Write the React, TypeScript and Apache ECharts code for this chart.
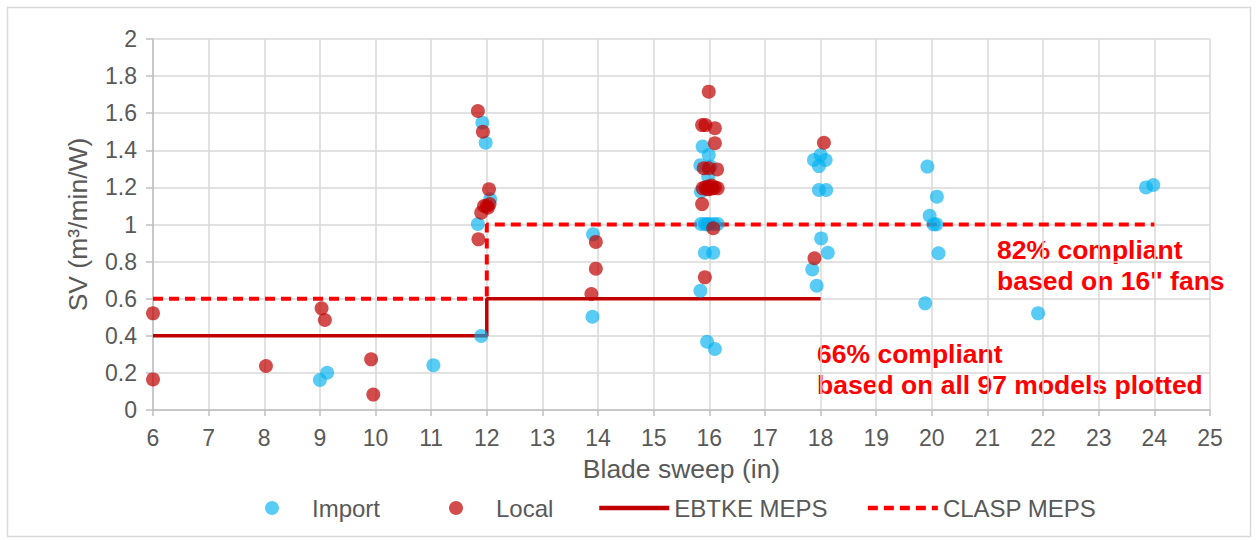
import React, { useEffect, useRef } from "react";
import * as echarts from "echarts";

const xTicks = { min: 6, max: 25, interval: 1 };
const yTicks = { min: 0, max: 2, interval: 0.2 };

const importPoints: [number, number][] = [
  [9.0, 0.162], [9.13, 0.201], [11.04, 0.241],
  [11.92, 1.549], [11.98, 1.441], [12.06, 1.136], [11.84, 1.003], [11.9, 0.399],
  [13.91, 0.947], [13.9, 0.503],
  [15.88, 1.42], [15.99, 1.375], [15.84, 1.32], [16.02, 1.312], [15.98, 1.258], [15.85, 1.177], [16.0, 1.2],
  [15.85, 1.003], [15.92, 1.003], [16.0, 1.003], [16.08, 1.003], [16.15, 1.003], [15.96, 1.0],
  [15.92, 0.848], [16.07, 0.848], [15.84, 0.643], [15.96, 0.368], [16.1, 0.329],
  [17.88, 1.348], [18.0, 1.375], [18.09, 1.348], [17.97, 1.315], [17.97, 1.186], [18.1, 1.186],
  [18.01, 0.925], [18.13, 0.848], [17.85, 0.758], [17.93, 0.67],
  [19.92, 1.312], [20.09, 1.15], [19.96, 1.047], [20.03, 1.001], [20.08, 1.001], [20.12, 0.845], [19.88, 0.575],
  [21.91, 0.521],
  [23.85, 1.2], [23.98, 1.213],
];

const localPoints: [number, number][] = [
  [6.0, 0.521], [6.0, 0.165], [8.03, 0.237],
  [9.03, 0.548], [9.09, 0.485], [9.92, 0.273], [9.96, 0.083],
  [11.84, 1.612], [11.93, 1.5], [12.04, 1.19], [11.95, 1.1], [12.0, 1.1], [12.05, 1.11], [12.02, 1.09],
  [11.9, 1.064], [11.85, 0.92],
  [13.96, 0.906], [13.96, 0.762], [13.88, 0.625],
  [15.99, 1.716], [15.87, 1.536], [15.93, 1.536], [16.1, 1.519], [16.1, 1.438],
  [15.9, 1.303], [15.99, 1.303], [16.14, 1.297],
  [15.88, 1.195], [15.93, 1.2], [15.98, 1.205], [16.02, 1.2], [16.06, 1.195], [16.1, 1.2], [16.15, 1.195],
  [16.0, 1.19], [16.04, 1.21], [15.96, 1.19],
  [15.87, 1.11], [16.07, 0.98], [15.92, 0.715],
  [18.06, 1.441], [17.89, 0.818],
];

const ebtkeMeps: [number, number][] = [[6, 0.4], [12, 0.4], [12, 0.6], [18, 0.6]];
const claspMeps: [number, number][] = [[6, 0.6], [12, 0.6], [12, 1.0], [24, 1.0]];

const seriesNames = ["Import", "Local", "EBTKE MEPS", "CLASP MEPS"];
const xAxisTitle = "Blade sweep (in)";
const yAxisTitle = "SV (m³/min/W)";
const note16 = ["82% compliant", "based on 16\" fans"];
const noteAll = ["66% compliant", "based on all 97 models plotted"];

const FONT = "'Liberation Sans', Arial, sans-serif";
const GREY = "#595959";

export default function App() {
  const ref = useRef<HTMLDivElement>(null);
  useEffect(() => {
    if (!ref.current) return;
    const chart = echarts.init(ref.current, null, { renderer: "svg" });
    const noteStyle = { fill: "#FF0000", font: `bold 26.5px ${FONT}` };
    const legendBase = {
      top: 491,
      itemWidth: 70,
      itemHeight: 14,
      textStyle: { color: GREY, fontSize: 24, fontFamily: FONT },
    };
    chart.setOption({
      animation: false,
      backgroundColor: "#ffffff",
      textStyle: { fontFamily: FONT },
      grid: { left: 153, right: 48, top: 39, bottom: 130 },
      legend: [
        {
          ...legendBase,
          data: [
            { name: seriesNames[0], icon: "circle" },
            { name: seriesNames[1], icon: "circle" },
          ],
          left: 260,
          itemGap: 69,
        },
        {
          ...legendBase,
          data: [{ name: seriesNames[2] }, { name: seriesNames[3] }],
          left: 592,
          itemGap: 38,
          lineStyle: { width: 4.5 },
        },
      ],
      xAxis: {
        type: "value",
        min: xTicks.min,
        max: xTicks.max,
        interval: xTicks.interval,
        name: xAxisTitle,
        nameLocation: "middle",
        nameGap: 45,
        nameTextStyle: { color: GREY, fontSize: 26.5, fontFamily: FONT },
        axisLine: { show: true, lineStyle: { color: "#BFBFBF", width: 1.5 } },
        axisTick: { show: true, length: 6, lineStyle: { color: "#BFBFBF", width: 1.5 } },
        axisLabel: { color: GREY, fontSize: 23, margin: 16 },
        splitLine: { show: true, lineStyle: { color: "#D9D9D9", width: 1.5 } },
      },
      yAxis: {
        type: "value",
        min: yTicks.min,
        max: yTicks.max,
        interval: yTicks.interval,
        name: yAxisTitle,
        nameLocation: "middle",
        nameGap: 62,
        nameTextStyle: { color: GREY, fontSize: 26.5, fontFamily: FONT },
        axisLine: { show: true, lineStyle: { color: "#BFBFBF", width: 1.5 } },
        axisTick: { show: true, length: 7, lineStyle: { color: "#BFBFBF", width: 1.5 } },
        axisLabel: { color: GREY, fontSize: 23, margin: 16 },
        splitLine: { show: true, lineStyle: { color: "#D9D9D9", width: 1.5 } },
      },
      series: [
        {
          name: seriesNames[2],
          type: "line",
          data: ebtkeMeps,
          showSymbol: false,
          symbol: "none",
          lineStyle: { color: "#C00000", width: 3.5 },
          itemStyle: { color: "#C00000", opacity: 0 },
          z: 2,
        },
        {
          name: seriesNames[3],
          type: "line",
          data: claspMeps,
          showSymbol: false,
          symbol: "none",
          lineStyle: { color: "#FF0000", width: 4, type: [10, 6] },
          itemStyle: { color: "#FF0000", opacity: 0 },
          z: 2,
        },
        {
          name: seriesNames[0],
          type: "scatter",
          data: importPoints,
          symbol: "circle",
          symbolSize: 14,
          itemStyle: { color: "#00B0F0", opacity: 0.65 },
          z: 3,
        },
        {
          name: seriesNames[1],
          type: "scatter",
          data: localPoints,
          symbol: "circle",
          symbolSize: 14,
          itemStyle: { color: "#C00000", opacity: 0.7 },
          z: 4,
        },
      ],
      graphic: [
        {
          type: "rect",
          shape: { x: 7.5, y: 7.5, width: 1243, height: 529 },
          style: { fill: "none", stroke: "#D9D9D9", lineWidth: 1.5 },
          silent: true,
          z: -1,
        },
        { type: "text", x: 997, y: 250, style: { ...noteStyle, text: note16[0], verticalAlign: "middle" } },
        { type: "text", x: 997, y: 281, style: { ...noteStyle, text: note16[1], verticalAlign: "middle" } },
        { type: "text", x: 817, y: 354, style: { ...noteStyle, text: noteAll[0], verticalAlign: "middle" } },
        { type: "text", x: 817, y: 385, style: { ...noteStyle, text: noteAll[1], verticalAlign: "middle" } },
      ],
    });
    return () => chart.dispose();
  }, []);
  return (
    <div
      ref={ref}
      style={{ position: "fixed", left: 0, top: 0, width: 1258, height: 540 }}
    />
  );
}
